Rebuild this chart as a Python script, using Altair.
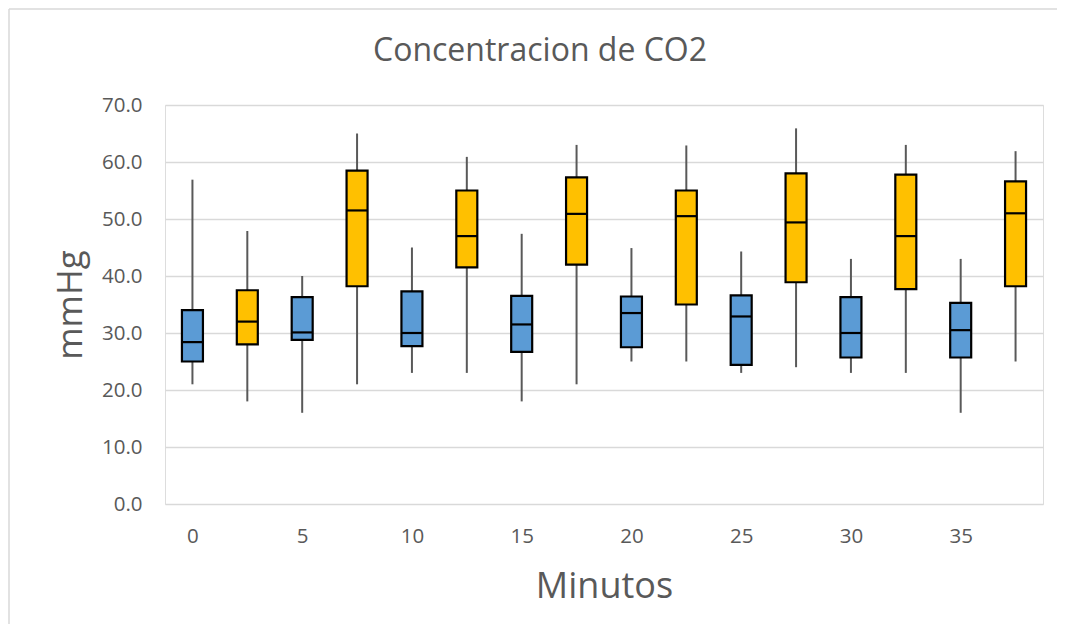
import altair as alt
import pandas as pd

# Box-plot statistics (mmHg)
minutes = [0, 2.5, 5, 7.5, 10, 12.5, 15, 17.5, 20, 22.5, 25, 27.5, 30, 32.5, 35, 37.5]
series = ["A", "B"] * 8
whisker_low = [21.0, 18.0, 16.0, 21.0, 23.0, 23.0, 18.0, 21.0, 25.0, 25.0, 23.0, 24.0, 23.0, 23.0, 16.0, 25.0]
q1 = [25.0, 28.0, 28.8, 38.2, 27.7, 41.5, 26.7, 42.0, 27.5, 35.0, 24.4, 38.9, 25.7, 37.7, 25.7, 38.2]
median = [28.4, 32.0, 30.1, 51.5, 30.0, 47.0, 31.5, 50.9, 33.5, 50.5, 32.9, 49.4, 30.0, 47.0, 30.5, 51.0]
q3 = [34.0, 37.5, 36.3, 58.5, 37.3, 55.0, 36.5, 57.3, 36.4, 55.0, 36.6, 58.0, 36.3, 57.8, 35.3, 56.6]
whisker_high = [56.9, 47.9, 40.0, 65.0, 45.0, 60.9, 47.4, 63.0, 44.9, 62.9, 44.3, 65.9, 43.0, 63.0, 43.0, 61.9]
x_tick_values = [0, 5, 10, 15, 20, 25, 30, 35]
y_tick_values = [0, 10, 20, 30, 40, 50, 60, 70]

df = pd.DataFrame({
    "minuto": minutes, "serie": series, "min": whisker_low, "q1": q1,
    "mediana": median, "q3": q3, "max": whisker_high,
})

TXT = "#595959"
FONT = "Open Sans"
W, H = 878, 399

xenc = alt.X(
    "minuto:Q",
    scale=alt.Scale(domain=[-1.25, 38.75], nice=False, zero=False, padding=0),
    axis=alt.Axis(
        values=x_tick_values, title="Minutos", grid=False, domain=False, ticks=False,
        labelPadding=22, labelFontSize=20.5, labelColor=TXT, labelFont=FONT,
        titleFontSize=36, titleFont=FONT, titleFontWeight="normal", titleColor=TXT,
        titleX=W / 2, titleY=93, titleBaseline="alphabetic", titleAlign="center",
    ),
)
yscale = alt.Scale(domain=[0, 70], nice=False, zero=True)
yaxis = alt.Axis(
    values=y_tick_values, format=".1f", title="mmHg", grid=True, gridColor="#D9D9D9",
    gridWidth=1.3, domain=False, ticks=False, labelPadding=23, labelFontSize=20.5,
    labelColor=TXT, labelFont=FONT, titleFontSize=35, titleFont=FONT,
    titleFontWeight="normal", titleColor=TXT, titleX=-84, titleY=H / 2,
    titleAngle=270, titleBaseline="alphabetic", titleAlign="center",
)

base = alt.Chart(df).encode(x=xenc)

whiskers = base.mark_rule(color="#595959", strokeWidth=2).encode(
    y=alt.Y("min:Q", scale=yscale, axis=yaxis), y2="max:Q"
)
boxes = base.mark_bar(size=21, stroke="black", strokeWidth=2.2).encode(
    y=alt.Y("q1:Q", scale=yscale), y2="q3:Q",
    color=alt.Color("serie:N", scale=alt.Scale(domain=["A", "B"], range=["#5B9BD5", "#FFC000"]), legend=None),
)
medians = base.mark_tick(orient="horizontal", color="black", size=21, thickness=2.2, opacity=1).encode(
    y=alt.Y("mediana:Q", scale=yscale)
)

frame_df = pd.DataFrame({"k": [0]})
frame_left = alt.Chart(frame_df).mark_rule(color="#D9D9D9", strokeWidth=1.5).encode(
    x=alt.value(-156), y=alt.value(-96), y2=alt.value(700)
)
frame_top = alt.Chart(frame_df).mark_rule(color="#D9D9D9", strokeWidth=1.5).encode(
    x=alt.value(-156), x2=alt.value(1000), y=alt.value(-96)
)

chart = alt.layer(frame_left, frame_top, whiskers, boxes, medians).properties(
    width=W, height=H,
    title=alt.TitleParams(
        "Concentracion de CO2", fontSize=32, font=FONT, fontWeight="normal", color=TXT,
        anchor="middle", frame="group", baseline="alphabetic", offset=-85, dx=-64,
    ),
    padding={"left": 157, "top": 97, "right": 14, "bottom": 120},
    autosize=alt.AutoSizeParams(type="none"),
).configure_view(stroke=None).configure(background="white")

chart.save("out.html", embed_options={"renderer": "svg", "actions": False})
